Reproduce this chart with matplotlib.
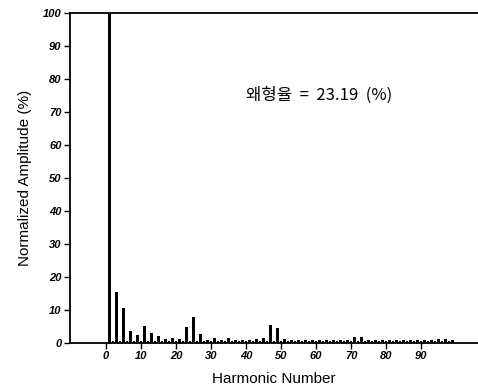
import numpy as np
import matplotlib
matplotlib.use("Agg")
import matplotlib.pyplot as plt

# harmonic spectrum values
harmonics = np.arange(1, 100)
amplitude = [
    100, 0.6, 15.5, 0.6, 10.5, 0.6, 3.6, 0.6, 2.4, 0.6,
    5.0, 0.6, 3.0, 0.6, 2.0, 0.6, 1.2, 0.6, 1.4, 0.6,
    1.3, 0.6, 4.9, 0.6, 8.0, 0.6, 2.7, 0.6, 1.0, 0.6,
    1.4, 0.6, 1.0, 0.6, 1.4, 0.6, 1.0, 0.6, 0.9, 0.6,
    1.0, 0.6, 1.2, 0.6, 1.4, 0.6, 5.4, 0.6, 4.6, 0.6,
    1.3, 0.6, 1.0, 0.6, 0.9, 0.6, 0.9, 0.6, 0.9, 0.6,
    0.9, 0.6, 0.9, 0.6, 0.9, 0.6, 0.9, 0.6, 1.0, 0.6,
    1.9, 0.6, 1.9, 0.6, 1.0, 0.6, 0.9, 0.6, 0.9, 0.6,
    0.9, 0.6, 0.9, 0.6, 0.9, 0.6, 0.9, 0.6, 0.9, 0.6,
    0.9, 0.6, 0.9, 0.6, 1.3, 0.6, 1.3, 0.6, 0.8,
]
xticks = [0, 10, 20, 30, 40, 50, 60, 70, 80, 90]
yticks = [0, 10, 20, 30, 40, 50, 60, 70, 80, 90, 100]
thd_text = "왜형율  =  23.19  (%)"

fig = plt.figure(figsize=(4.78, 3.91), dpi=100)
ax = fig.add_axes([0.1464, 0.1228, 0.8536, 0.844])

widths = [0.7] + [0.6] * (len(harmonics) - 1)
ax.bar(harmonics, amplitude, width=widths, color="black")

ax.set_xlim(-10.3, 106.3)
ax.set_ylim(0, 100)
ax.spines["right"].set_visible(False)
for s in ["left", "bottom", "top"]:
    ax.spines[s].set_linewidth(1.3)

tick_font = dict(family="Liberation Sans", style="italic", weight="bold", size=8)
ax.set_xticks(xticks)
ax.set_xticklabels([str(t) for t in xticks], **tick_font)
ax.set_yticks(yticks)
ax.set_yticklabels([str(t) for t in yticks], **tick_font)
ax.tick_params(axis="both", direction="out", length=4, width=1, pad=2)

ax.set_xlabel("Harmonic Number", family="Liberation Sans", size=11, labelpad=8)
ax.set_ylabel("Normalized Amplitude (%)", family="Liberation Sans", size=11, labelpad=8)

ax.text(61, 75, thd_text, ha="center", va="center", size=12,
        family=["Noto Sans CJK KR", "DejaVu Sans"])

fig.savefig("out.png", dpi=100)
